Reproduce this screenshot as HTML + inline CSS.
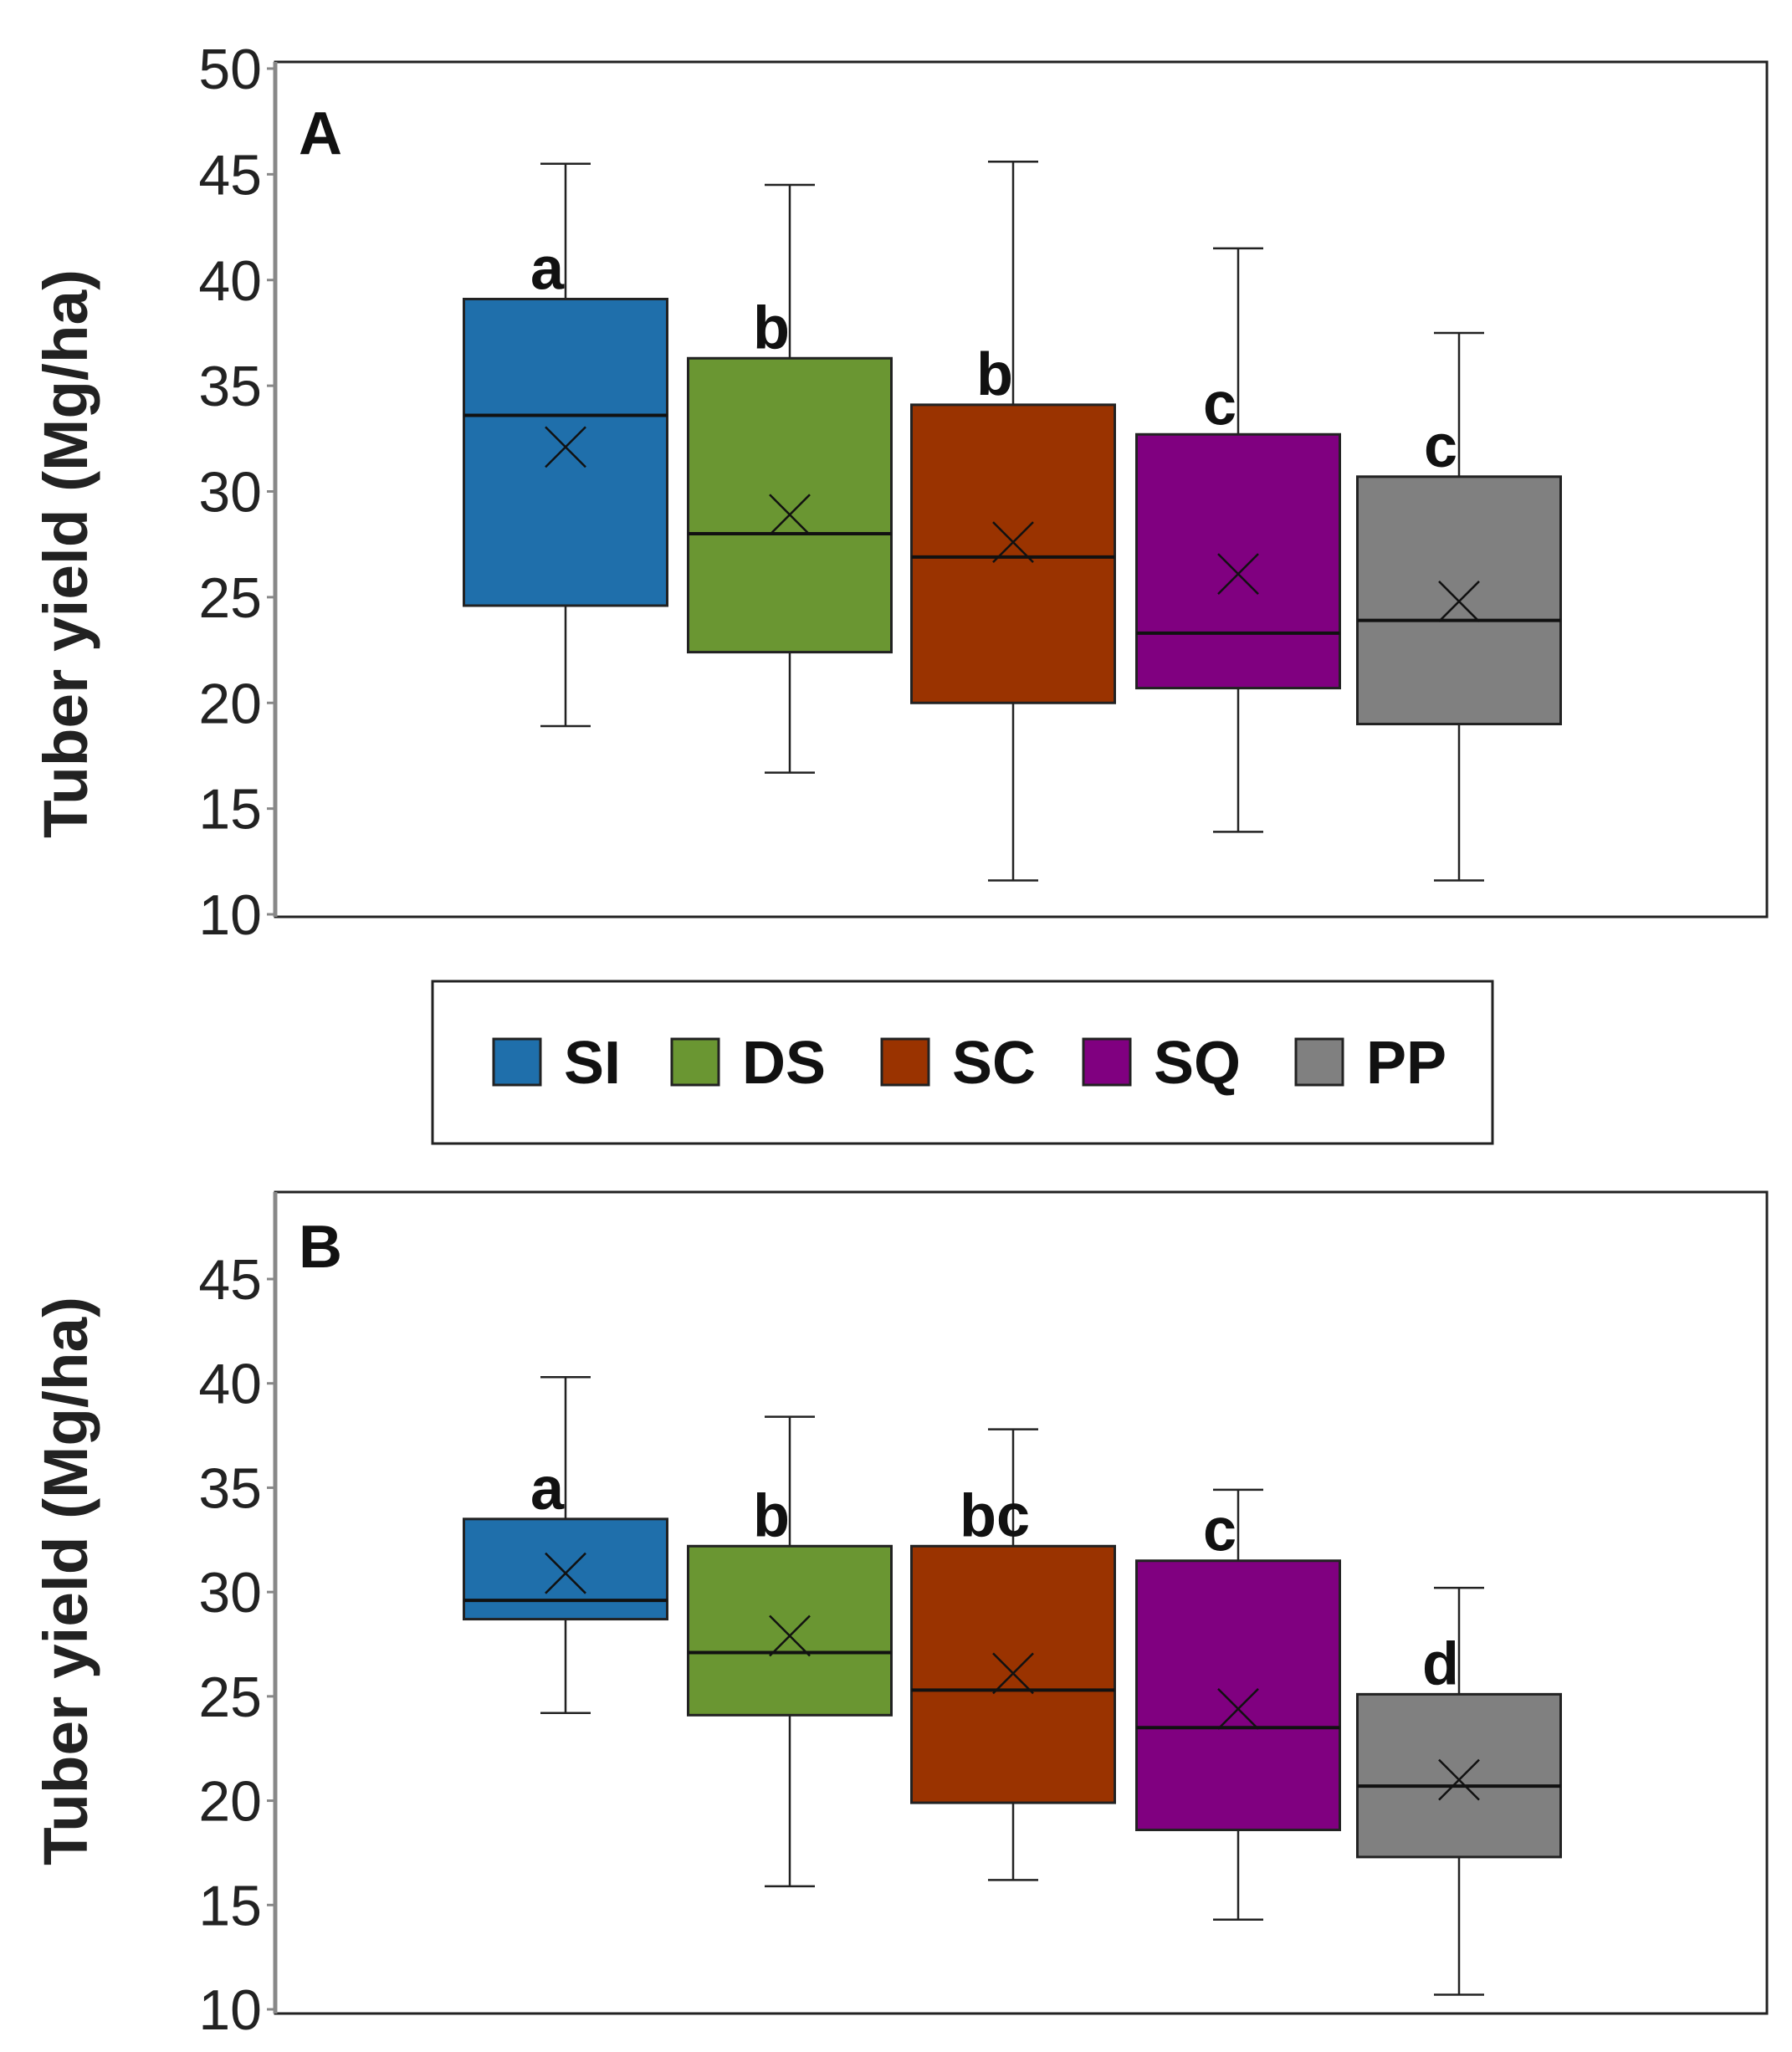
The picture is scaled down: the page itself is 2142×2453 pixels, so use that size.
<!DOCTYPE html>
<html><head><meta charset="utf-8"><style>
html,body{margin:0;padding:0;background:#fff;}
svg{display:block;font-family:"Liberation Sans",sans-serif;}
</style></head><body>
<svg id="chart" width="2142" height="2453" viewBox="0 0 2142 2453" xmlns="http://www.w3.org/2000/svg">
<g id="legend">
<rect x="517" y="1173" width="1267" height="194" fill="#fff" stroke="#222" stroke-width="3"/>
</g>
</svg>
<script>
const categories = ["SI","DS","SC","SQ","PP"];
const colors = ["#1F6FAB","#6A9632","#9A3300","#800080","#808080"];
const yTicksA = [10,15,20,25,30,35,40,45,50];
const yTicksB = [10,15,20,25,30,35,40,45];
// Panel A
const aWhiskerHigh = [45.5,44.5,45.6,41.5,37.5];
const aWhiskerLow = [18.9,16.7,11.6,13.9,11.6];
const aQ3 = [39.1,36.3,34.1,32.7,30.7];
const aQ1 = [24.6,22.4,20.0,20.7,19.0];
const aMedian = [33.6,28.0,26.9,23.3,23.9];
const aMean = [32.1,28.9,27.6,26.1,24.8];
const aLetters = ["a","b","b","c","c"];
// Panel B
const bWhiskerHigh = [40.3,38.4,37.8,34.9,30.2];
const bWhiskerLow = [24.2,15.9,16.2,14.3,10.7];
const bQ3 = [33.5,32.2,32.2,31.5,25.1];
const bQ1 = [28.7,24.1,19.9,18.6,17.3];
const bMedian = [29.6,27.1,25.3,23.5,20.7];
const bMean = [30.9,27.9,26.1,24.4,21.0];
const bLetters = ["a","b","bc","c","d"];

const NS="http://www.w3.org/2000/svg";
const svg=document.getElementById('chart');
function mk(tag,attrs,parent){const e=document.createElementNS(NS,tag);for(const k in attrs)e.setAttribute(k,attrs[k]);(parent||svg).appendChild(e);return e;}
const centers=[676,944,1211,1480,1744];
const boxW=243;

function panel(cfg){
  const g=mk('g',{});
  
  
  const y=v=>cfg.y0+(v-cfg.v0)*(cfg.y1-cfg.y0)/(cfg.v1-cfg.v0);
  const frame=mk('rect',{x:cfg.left,y:cfg.top,width:2112-cfg.left,height:cfg.bottom-cfg.top,fill:'#fff',stroke:'#222','stroke-width':3},g);
  
  
  const ax=mk('line',{x1:cfg.left,y1:cfg.top,x2:cfg.left,y2:cfg.bottom,stroke:'#888','stroke-width':5},g);
  
  
  cfg.ticks.forEach(t=>{
    mk('line',{x1:cfg.left-10,y1:y(t),x2:cfg.left,y2:y(t),stroke:'#888','stroke-width':3},g);
    const tx=mk('text',{x:cfg.left-16,y:y(t)+24,'text-anchor':'end','font-size':68,fill:'#222'},g);
    tx.textContent=t;
    
    
  });
  const title=mk('text',{x:0,y:0,transform:`translate(104 ${cfg.titleY}) rotate(-90)`,'text-anchor':'middle','font-size':74,'font-weight':'bold',fill:'#222',textLength:680,lengthAdjust:'spacingAndGlyphs'},g);
  title.textContent='Tuber yield (Mg/ha)';
  
  
  const pl=mk('text',{x:cfg.left+28,y:cfg.top+cfg.labelDy,'font-size':72,'font-weight':'bold',fill:'#111'},g);
  pl.textContent=cfg.label;
  
  
  categories.forEach((c,i)=>{
    const cx=centers[i];
    const bg=mk('g',{},g);
    
    
    mk('line',{x1:cx,y1:y(cfg.wh[i]),x2:cx,y2:y(cfg.q3[i]),stroke:'#222','stroke-width':2.5},bg);
    mk('line',{x1:cx,y1:y(cfg.wl[i]),x2:cx,y2:y(cfg.q1[i]),stroke:'#222','stroke-width':2.5},bg);
    mk('line',{x1:cx-30,y1:y(cfg.wh[i]),x2:cx+30,y2:y(cfg.wh[i]),stroke:'#222','stroke-width':2.5},bg);
    mk('line',{x1:cx-30,y1:y(cfg.wl[i]),x2:cx+30,y2:y(cfg.wl[i]),stroke:'#222','stroke-width':2.5},bg);
    mk('rect',{x:cx-boxW/2,y:y(cfg.q3[i]),width:boxW,height:y(cfg.q1[i])-y(cfg.q3[i]),fill:colors[i],stroke:'#222','stroke-width':3},bg);
    mk('line',{x1:cx-boxW/2,y1:y(cfg.med[i]),x2:cx+boxW/2,y2:y(cfg.med[i]),stroke:'#111','stroke-width':4},bg);
    const my=y(cfg.mean[i]);
    mk('path',{d:`M${cx-24} ${my-24}L${cx+24} ${my+24}M${cx+24} ${my-24}L${cx-24} ${my+24}`,stroke:'#111','stroke-width':2.5,fill:'none'},bg);
    const lt=mk('text',{x:cx-22,y:y(cfg.q3[i])-12,'text-anchor':'middle','font-size':72,'font-weight':'bold',fill:'#111'},g);
    lt.textContent=cfg.letters[i];
    
    
  });
}
panel({name:'panel-a',label:'A',left:329,top:74,bottom:1096,y0:1093,v0:10,y1:82,v1:50,ticks:yTicksA,labelDy:110,titleY:662,
  wh:aWhiskerHigh,wl:aWhiskerLow,q3:aQ3,q1:aQ1,med:aMedian,mean:aMean,letters:aLetters});
panel({name:'panel-b',label:'B',left:329,top:1425,bottom:2407,y0:2402,v0:10,y1:1529,v1:45,ticks:yTicksB,labelDy:90,titleY:1890,
  wh:bWhiskerHigh,wl:bWhiskerLow,q3:bQ3,q1:bQ1,med:bMedian,mean:bMean,letters:bLetters});

const leg=document.getElementById('legend');
const swX=[590,803,1054,1295,1549];
categories.forEach((c,i)=>{
  const eg=mk('g',{},leg);
  
  
  mk('rect',{x:swX[i],y:1242,width:56,height:55,fill:colors[i],stroke:'#222','stroke-width':3},eg);
  const t=mk('text',{x:swX[i]+84,y:1295,'font-size':72,'font-weight':'bold',fill:'#111'},eg);
  t.textContent=c;
});
</script>
</body></html>
